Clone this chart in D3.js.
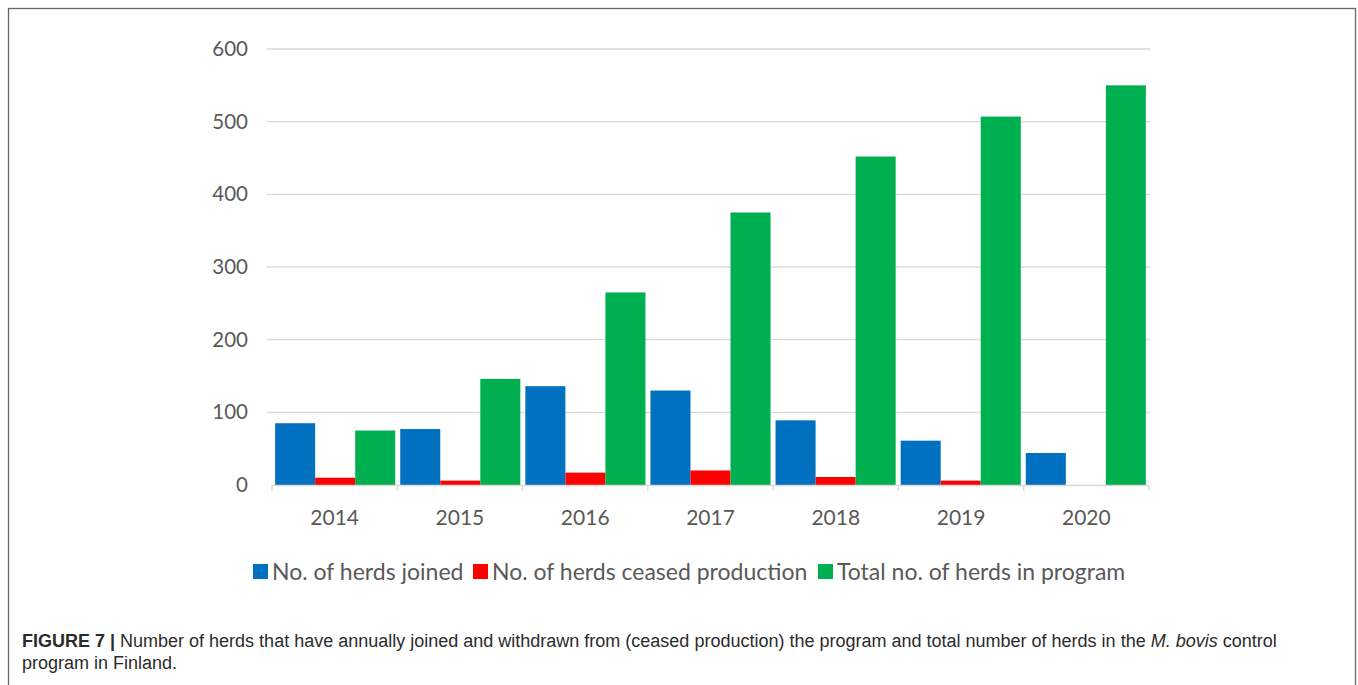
<!DOCTYPE html>
<html><head><meta charset="utf-8">
<script src="https://cdn.jsdelivr.net/npm/d3@7"></script>
<style>html,body{margin:0;padding:0;background:#fff;}</style>
</head><body>
<svg id="c" width="1358" height="685"></svg>
<script>
const years = ["2014","2015","2016","2017","2018","2019","2020"];
const joined = [85, 77, 136, 130, 89, 61, 44];
const ceased = [10, 6, 17, 20, 11, 6, 0];
const total = [75, 146, 265, 375, 452, 507, 550];
const yTicks = [0, 100, 200, 300, 400, 500, 600];
const seriesNames = ["No. of herds joined", "No. of herds ceased production", "Total no. of herds in program"];
const seriesColors = ["#0070C0", "#FF0000", "#00B050"];
const seriesData = [joined, ceased, total];

(function(){
const svg = d3.select("#c");
const font = "Lato, 'Open Sans', sans-serif";

// frame
svg.append("rect").attr("x", 8.5).attr("y", 8.5).attr("width", 1347).attr("height", 690)
  .attr("fill", "none").attr("stroke", "#666").attr("stroke-width", 1.3);

const pLeft = 272, pRight = 1149, pTop = 49, pBottom = 485;
const x = d3.scaleBand().domain(years).range([pLeft, pRight]).paddingInner(0.04).paddingOuter(0.025);
const xs = d3.scaleBand().domain([0,1,2]).range([0, x.bandwidth()]);
const y = d3.scaleLinear().domain([0, 600]).range([pBottom, pTop]);

// gridlines
svg.append("g").selectAll("line").data(yTicks.filter(d => d > 0)).join("line")
  .attr("x1", 267).attr("x2", 1150).attr("y1", d => y(d)).attr("y2", d => y(d))
  .attr("stroke", "#d9d9d9").attr("stroke-width", 1.3);

// bars
seriesData.forEach((arr, si) => {
  svg.append("g").selectAll("rect").data(arr).join("rect")
    .attr("x", (d, i) => x(years[i]) + xs(si))
    .attr("width", xs.bandwidth())
    .attr("y", d => y(d))
    .attr("height", d => pBottom - y(d))
    .attr("fill", seriesColors[si]);
});

// x axis line and ticks
const xb = d3.scaleBand().domain(years).range([pLeft, pRight]);
svg.append("line").attr("x1", pLeft).attr("x2", pRight).attr("y1", pBottom + 0.5).attr("y2", pBottom + 0.5)
  .attr("stroke", "#d9d9d9").attr("stroke-width", 1.3);
const bounds = years.map(d => xb(d)).concat([pRight]);
svg.append("g").selectAll("line").data(bounds).join("line")
  .attr("x1", d => d).attr("x2", d => d).attr("y1", pBottom).attr("y2", pBottom + 6)
  .attr("stroke", "#d9d9d9").attr("stroke-width", 1.3);

// x labels
svg.append("g").selectAll("text").data(years).join("text")
  .attr("x", d => xb(d) + xb.bandwidth() / 2).attr("y", 525)
  .attr("text-anchor", "middle").attr("font-family", font).attr("font-size", 21)
  .attr("fill", "#595959").text(d => d);

// y labels
svg.append("g").selectAll("text").data(yTicks).join("text")
  .attr("x", 248).attr("y", d => y(d) + 7)
  .attr("text-anchor", "end").attr("font-family", font).attr("font-size", 20.5)
  .attr("fill", "#595959").text(d => d);

// legend
const legX = [253, 473, 818];
seriesNames.forEach((n, i) => {
  svg.append("rect").attr("x", legX[i]).attr("y", 564).attr("width", 15).attr("height", 15)
    .attr("fill", seriesColors[i]);
  svg.append("text").attr("x", legX[i] + 19).attr("y", 580)
    .attr("font-family", font).attr("font-size", 23).attr("fill", "#595959").text(n);
});

// caption
const capFont = "'Liberation Sans', Arial, sans-serif";
const cap = svg.append("text").attr("x", 22).attr("y", 647)
  .attr("font-family", capFont).attr("font-size", 18).attr("fill", "#2b2b2b");
cap.append("tspan").attr("font-weight", "bold").text("FIGURE 7 | ");
cap.append("tspan").text("Number of herds that have annually joined and withdrawn from (ceased production) the program and total number of herds in the ");
cap.append("tspan").attr("font-style", "italic").text("M. bovis");
cap.append("tspan").text(" control");
svg.append("text").attr("x", 22).attr("y", 669)
  .attr("font-family", capFont).attr("font-size", 18).attr("fill", "#2b2b2b")
  .text("program in Finland.");
})();
</script>
</body></html>
